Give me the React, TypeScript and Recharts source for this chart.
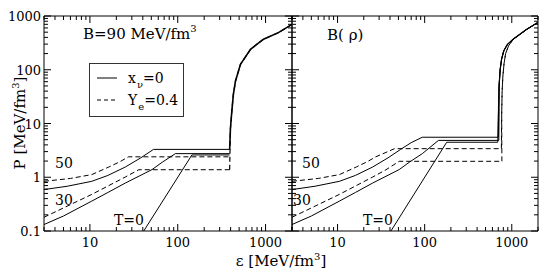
import { Line, LineChart, XAxis, YAxis } from "recharts";

type Pt = [number, number];

const X_MAJOR = [10, 100, 1000];
const X_TICKS = [
  3, 4, 5, 6, 7, 8, 9, 10, 20, 30, 40, 50, 60, 70, 80, 90, 100, 200, 300, 400,
  500, 600, 700, 800, 900, 1000, 2000,
];
const Y_MAJOR = [0.1, 1, 10, 100, 1000];
const Y_TICKS = [
  0.1, 0.2, 0.3, 0.4, 0.5, 0.6, 0.7, 0.8, 0.9, 1, 2, 3, 4, 5, 6, 7, 8, 9, 10,
  20, 30, 40, 50, 60, 70, 80, 90, 100, 200, 300, 400, 500, 600, 700, 800, 900,
  1000,
];

// low density (hadronic) branches
const T50_SOLID: Pt[] = [[3, 0.59], [5.5, 0.68], [10.5, 0.84], [16, 1.08], [25.3, 1.55], [38, 2.3], [53, 3.3]];
const T50_DASHED: Pt[] = [[3, 0.84], [6, 0.95], [10.5, 1.12], [16.4, 1.55], [22, 1.95], [27.5, 2.4]];
const T30_SOLID: Pt[] = [[3, 0.132], [5, 0.19], [10.5, 0.36], [16, 0.52], [25.3, 0.78], [51, 1.39], [66.5, 1.9], [94, 2.75]];
const T30_DASHED: Pt[] = [[3, 0.18], [10.5, 0.48], [25.3, 1.01], [36, 1.38]];
const T0_SOLID: Pt[] = [[41, 0.1], [145, 2.6]];

// left panel: B = 90, mixed phase up to ~390
const L_T50_SOLID: Pt[] = [...T50_SOLID, [390, 3.3]];
const L_T50_DASHED: Pt[] = [...T50_DASHED, [390, 2.4]];
const L_T30_SOLID: Pt[] = [...T30_SOLID, [390, 2.75]];
const L_T30_DASHED: Pt[] = [...T30_DASHED, [390, 1.38]];
const L_T0_SOLID: Pt[] = [...T0_SOLID, [390, 2.6]];
const L_QUARK: Pt[] = [[398, 8], [413, 17], [430, 35], [454, 61], [518, 126], [674, 240], [948, 370], [1400, 490], [2000, 700]];

// right panel: B(rho), mixed phase up to ~700-760
const R_T50_SOLID: Pt[] = [...T50_SOLID, [70, 4.4], [94, 5.55], [700, 5.55]];
const R_T50_DASHED: Pt[] = [...T50_DASHED, [36, 2.9], [45, 3.4], [760, 3.4]];
const R_T30_SOLID: Pt[] = [...T30_SOLID, [144, 4.85], [710, 4.85]];
const R_T30_DASHED: Pt[] = [...T30_DASHED, [51, 1.98], [770, 1.98]];
const R_T0_SOLID: Pt[] = [[41, 0.1], [179, 4.48], [690, 4.48]];
const R_QUARK_SOLID: Pt[] = [[705, 20], [715, 50], [735, 100], [765, 160], [810, 225], [890, 295], [1035, 370], [1470, 560], [2000, 760]];
const R_QUARK_DASHED: Pt[] = [[766, 15], [775, 40], [790, 75], [815, 130], [850, 200], [920, 280], [1035, 365], [1470, 557], [2000, 760]];

const FONT = "'DejaVu Serif', 'Liberation Serif', serif";

const toData = (pts: Pt[]) => pts.map(([e, p]) => ({ e, p }));

function XTick(props: any) {
  const { x, y, payload, side, labels } = props;
  const major = X_MAJOR.includes(payload.value);
  const len = major ? 7 : 4;
  const dir = side === "bottom" ? -1 : 1;
  return (
    <g>
      <line x1={x} x2={x} y1={y} y2={y + dir * len} stroke="#000" strokeWidth={1} />
      {labels && major && (
        <text x={x} y={y + 16} textAnchor="middle" fontSize={13} style={{ fontFamily: FONT }} fill="#000">
          {payload.value}
        </text>
      )}
    </g>
  );
}

function YTick(props: any) {
  const { x, y, payload, side, labels } = props;
  const major = Y_MAJOR.includes(payload.value);
  const len = major ? 7 : 4;
  const dir = side === "left" ? 1 : -1;
  return (
    <g>
      <line x1={x} x2={x + dir * len} y1={y} y2={y} stroke="#000" strokeWidth={1} />
      {labels && major && (
        <text x={x - 3} y={y + 5} textAnchor="end" fontSize={13} style={{ fontFamily: FONT }} fill="#000">
          {payload.value}
        </text>
      )}
    </g>
  );
}

const Series = (pts: Pt[], dashed: boolean, key: string, w = 1) => (
  <Line
    key={key}
    data={toData(pts)}
    dataKey="p"
    type="linear"
    stroke="#000"
    strokeWidth={w}
    strokeDasharray={dashed ? "5 3" : undefined}
    dot={false}
    isAnimationActive={false}
  />
);

const axisCommon = {
  type: "number" as const,
  scale: "log" as const,
  allowDataOverflow: true,
  interval: 0 as const,
  tickSize: 0,
  tickMargin: 0,
  axisLine: { stroke: "#000" },
  tickLine: false,
};

const Axes = (leftLabels: boolean) => [
  <XAxis
    key="xb"
    {...axisCommon}
    dataKey="e"
    domain={[3, 2000]}
    ticks={X_TICKS}
    height={1}
    tick={(p: any) => <XTick {...p} side="bottom" labels />}
  />,
  <XAxis
    key="xt"
    {...axisCommon}
    xAxisId="t"
    orientation="top"
    dataKey="e"
    domain={[3, 2000]}
    ticks={X_TICKS}
    height={1}
    tick={(p: any) => <XTick {...p} side="top" />}
  />,
  <YAxis
    key="yl"
    {...axisCommon}
    domain={[0.1, 1000]}
    ticks={Y_TICKS}
    width={1}
    tick={(p: any) => <YTick {...p} side="left" labels={leftLabels} />}
  />,
  <YAxis
    key="yr"
    {...axisCommon}
    yAxisId="r"
    orientation="right"
    domain={[0.1, 1000]}
    ticks={Y_TICKS}
    width={1}
    tick={(p: any) => <YTick {...p} side="right" />}
  />,
];

export default function App() {
  return (
    <div style={{ position: "absolute", left: 0, top: 0, width: 540, height: 279, background: "#fff" }}>
      <div style={{ position: "absolute", left: 0, top: 0 }}>
        <LineChart width={293} height={279} margin={{ top: 15, right: 0, bottom: 47, left: 43 }}>
          {Axes(true)}
          {Series(L_T50_SOLID, false, "a")}
          {Series(L_T50_DASHED, true, "b")}
          {Series(L_T30_SOLID, false, "c")}
          {Series(L_T30_DASHED, true, "d")}
          {Series(L_T0_SOLID, false, "e")}
          {Series([[390, 1.38], ...L_QUARK], true, "f", 1.2)}
          {Series([[390, 3.3], ...L_QUARK], false, "g", 1.6)}
        </LineChart>
      </div>
      <div style={{ position: "absolute", left: 291, top: 0 }}>
        <LineChart width={249} height={279} margin={{ top: 15, right: 1, bottom: 47, left: 0 }}>
          {Axes(false)}
          {Series(R_T50_SOLID, false, "a")}
          {Series(R_T50_DASHED, true, "b")}
          {Series(R_T30_SOLID, false, "c")}
          {Series(R_T30_DASHED, true, "d")}
          {Series(R_T0_SOLID, false, "e")}
          {Series([[760, 3.4], ...R_QUARK_DASHED], true, "f")}
          {Series([[770, 1.98], ...R_QUARK_DASHED], true, "f2")}
          {Series([[700, 5.55], ...R_QUARK_SOLID], false, "g", 1.2)}
          {Series([[710, 4.85], [716, 20], ...R_QUARK_SOLID.slice(1)], false, "h")}
          {Series([[690, 4.48], ...R_QUARK_SOLID], false, "i")}
        </LineChart>
      </div>
      <svg
        width={540}
        height={279}
        style={{ position: "absolute", left: 0, top: 0, pointerEvents: "none", fontFamily: FONT }}
        fill="#000"
      >
        <text x={83} y={39} fontSize={15}>
          B=90 MeV/fm<tspan dy={-7} fontSize={10}>3</tspan>
        </text>
        <text x={327} y={40} fontSize={15}>B( ρ)</text>
        <rect x={89.5} y={63.5} width={94} height={53} fill="none" stroke="#333" />
        <line x1={97} x2={117} y1={78} y2={78} stroke="#000" />
        <line x1={97} x2={117} y1={100} y2={100} stroke="#000" strokeDasharray="4 3" />
        <text x={128} y={83} fontSize={14}>
          x<tspan dx={1} dy={5} fontSize={10}>ν</tspan>
          <tspan dy={-5}>=0</tspan>
        </text>
        <text x={128} y={105} fontSize={14}>
          Y<tspan dx={1} dy={5} fontSize={10}>e</tspan>
          <tspan dy={-5}>=0.4</tspan>
        </text>
        <text x={55} y={168} fontSize={14}>50</text>
        <text x={55} y={205} fontSize={14}>30</text>
        <text x={114} y={225} fontSize={14}>T=0</text>
        <text x={302} y={168} fontSize={14}>50</text>
        <text x={293} y={205} fontSize={14}>30</text>
        <text x={363} y={225} fontSize={14}>T=0</text>
        <text x={281} y={266} fontSize={15} textAnchor="middle">
          ε [MeV/fm<tspan dy={-6} fontSize={10}>3</tspan>
          <tspan dy={6}>]</tspan>
        </text>
        <text x={25} y={123} fontSize={15} textAnchor="middle" transform="rotate(-90 25 123)">
          P [MeV/fm<tspan dy={-6} fontSize={10}>3</tspan>
          <tspan dy={6}>]</tspan>
        </text>
      </svg>
    </div>
  );
}
